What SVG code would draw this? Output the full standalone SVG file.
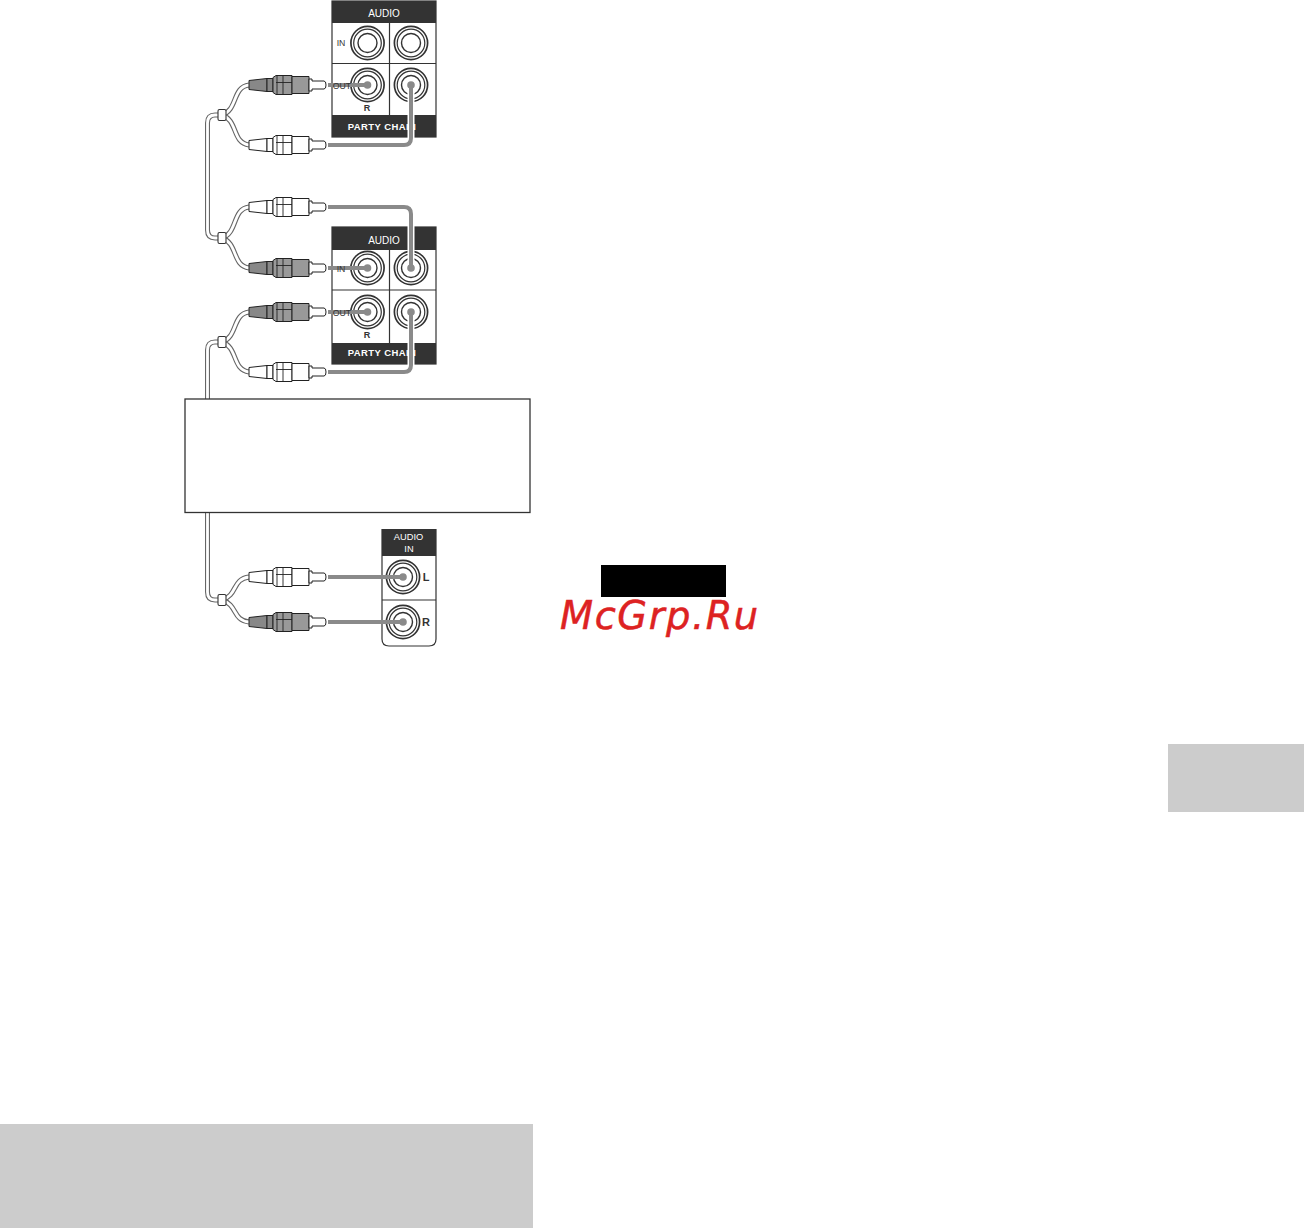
<svg xmlns="http://www.w3.org/2000/svg" xmlns:xlink="http://www.w3.org/1999/xlink" width="1304" height="1228" viewBox="0 0 1304 1228">
<style>
text{font-family:"Liberation Sans",Arial,sans-serif}
.hd{fill:#fff;font-size:10px;text-anchor:middle}
.hs{fill:#fff;font-size:9.300px;text-anchor:middle}
.hf{fill:#fff;font-size:9.500px;font-weight:bold;text-anchor:middle;letter-spacing:.4px}
.lb{fill:#333;font-size:8.700px;text-anchor:middle}
.lbb{fill:#333;font-size:9px;font-weight:bold;text-anchor:middle}
.pan{fill:#fff;stroke:#333;stroke-width:1.200}
.dark{fill:#333}
.div{stroke:#333;stroke-width:1.200;fill:none}
.halo{fill:none;stroke:#fff;stroke-width:7}
.wire{fill:none;stroke:#8a8a8a;stroke-width:4}
.co{fill:none;stroke:#666;stroke-width:5}
.ci{fill:none;stroke:#fff;stroke-width:2.800}
.pl{stroke:#222;stroke-width:1;stroke-linejoin:round}
.ln{stroke:#222;stroke-width:.900;fill:none}
</style>
<defs>
<g id="jack">
<circle r="16.600" fill="#fff" stroke="#333" stroke-width="1.700"/>
<circle r="13.800" fill="none" stroke="#333" stroke-width="1.200"/>
<circle r="9.500" fill="none" stroke="#333" stroke-width="1.400"/>
</g>
<g id="plugW">
<path class="pl" fill="#fff" d="M0-4.500L18-6.500V6.500L0 4.500Z"/>
<path class="pl" fill="#fff" d="M18-6.500H24V6.500H18Z"/>
<path class="pl" fill="#fff" d="M24-7.500L27-9.500H43V9.500H27L24 7.500Z"/>
<path class="pl" fill="#fff" d="M43-8.500H60V8.500H43Z"/>
<path class="pl" fill="#fff" d="M60-6H63V-4H75Q77-4 77 0Q77 4 75 4H63V6H60Z"/>
<path class="ln" d="M28-9.500V9.500M34-9.500V9.500M27-2.500H43"/>
</g>
<g id="plugG">
<path class="pl" fill="#888" d="M0-4.500L18-6.500V6.500L0 4.500Z"/>
<path class="pl" fill="#888" d="M18-6.500H24V6.500H18Z"/>
<path class="pl" fill="#999" d="M24-7.500L27-9.500H43V9.500H27L24 7.500Z"/>
<path class="pl" fill="#999" d="M43-8.500H60V8.500H43Z"/>
<path class="pl" fill="#fff" d="M60-6H63V-4H75Q77-4 77 0Q77 4 75 4H63V6H60Z"/>
<path class="ln" d="M28-9.500V9.500M34-9.500V9.500M27-2.500H43"/>
</g>
<rect id="clip" x="-4" y="-5.500" width="8" height="11" rx="1.500" fill="#fff" stroke="#333" stroke-width="1.100"/>
</defs>

<rect id="side-tab" x="1168" y="744" width="136" height="68" fill="#ccc"/>
<rect id="note-band" x="0" y="1124" width="533" height="104" fill="#ccc"/>

<g id="panel-top">
<rect class="pan" x="332" y="1" width="104" height="136"/>
<rect class="dark" x="332" y="1" width="104" height="22"/>
<rect class="dark" x="332" y="115" width="104" height="22"/>
<path class="div" d="M332 63.500H436M389.500 23V115"/>
<text class="hd" x="384" y="16.500">AUDIO</text>
<text class="lb" x="341" y="46">IN</text>
<use href="#jack" x="367.500" y="43"/><use href="#jack" x="411" y="43"/>
<use href="#jack" x="367.500" y="85"/><use href="#jack" x="411" y="85"/>
<text class="lbb" x="367" y="111">R</text>
<text class="lb" x="411" y="111">L</text>
<text class="hf" x="382" y="129.500">PARTY CHAIN</text>
</g>

<g id="panel-middle">
<rect class="pan" x="332" y="227" width="104" height="137"/>
<rect class="dark" x="332" y="227" width="104" height="23"/>
<rect class="dark" x="332" y="343" width="104" height="21"/>
<path class="div" d="M332 290H436M389.500 250V343"/>
<text class="hd" x="384" y="243.500">AUDIO</text>
<use href="#jack" x="367.500" y="268"/><use href="#jack" x="411" y="268"/>
<use href="#jack" x="367.500" y="312"/><use href="#jack" x="411" y="312"/>
<text class="lbb" x="367" y="338">R</text>
<text class="lb" x="411" y="338">L</text>
<text class="hf" x="382" y="356">PARTY CHAIN</text>
</g>

<g id="panel-bottom">
<path class="pan" d="M382 529.500H436V639Q436 646 429 646H389Q382 646 382 639Z"/>
<rect class="dark" x="382" y="529" width="54" height="27"/>
<path class="div" d="M382 600H436"/>
<text class="hs" x="408.500" y="540">AUDIO</text>
<text class="hs" x="409" y="552">IN</text>
<use href="#jack" x="403" y="577"/><use href="#jack" x="403" y="622"/>
<text x="426" y="581" font-size="11" font-weight="bold" fill="#333" text-anchor="middle">L</text>
<text x="426" y="626" font-size="11" font-weight="bold" fill="#333" text-anchor="middle">R</text>
</g>

<g id="connectors">
<path class="co" d="M222 115H215Q207.500 115 207.500 123V230Q207.500 238 215 238H222"/>
<path class="co" d="M222 115C238 110 232 87 249 85M222 115C238 120 232 143 249 145M222 238C238 233 232 209 249 207M222 238C238 243 232 266 249 268"/>
<path class="co" d="M222 342H215Q207.500 342 207.500 350V592Q207.500 600 215 600H222"/>
<path class="co" d="M222 342C238 337 232 314 249 312M222 342C238 347 232 370 249 372M222 600C238 595 232 579 249 577M222 600C238 605 232 620 249 622"/>
<path class="ci" d="M222 115H215Q207.500 115 207.500 123V230Q207.500 238 215 238H222"/>
<path class="ci" d="M222 115C238 110 232 87 249 85M222 115C238 120 232 143 249 145M222 238C238 233 232 209 249 207M222 238C238 243 232 266 249 268"/>
<path class="ci" d="M222 342H215Q207.500 342 207.500 350V592Q207.500 600 215 600H222"/>
<path class="ci" d="M222 342C238 337 232 314 249 312M222 342C238 347 232 370 249 372M222 600C238 595 232 579 249 577M222 600C238 605 232 620 249 622"/>
<use href="#clip" x="222" y="115"/><use href="#clip" x="222" y="238"/>
<use href="#clip" x="222" y="342"/><use href="#clip" x="222" y="600"/>

<path class="halo" d="M329 145H404Q411 145 411 138V85"/>
<path class="halo" d="M329 207H404Q411 207 411 214V268"/>
<path class="halo" d="M329 372H404Q411 372 411 365V312"/>
<path class="wire" d="M328 85H367.500"/>
<path class="wire" d="M328 145H404Q411 145 411 138V85"/>
<path class="wire" d="M328 207H404Q411 207 411 214V268"/>
<path class="wire" d="M328 268H367.500"/>
<path class="wire" d="M328 312H367.500"/>
<path class="wire" d="M328 372H404Q411 372 411 365V312"/>
<path class="wire" d="M328 577H403"/>
<path class="wire" d="M328 622H403"/>
<circle cx="367.500" cy="85" r="3.800" fill="#8a8a8a"/><circle cx="411" cy="85" r="3.800" fill="#8a8a8a"/>
<circle cx="411" cy="268" r="3.800" fill="#8a8a8a"/><circle cx="367.500" cy="268" r="3.800" fill="#8a8a8a"/>
<circle cx="367.500" cy="312" r="3.800" fill="#8a8a8a"/><circle cx="411" cy="312" r="3.800" fill="#8a8a8a"/>
<circle cx="403" cy="577" r="3.800" fill="#8a8a8a"/><circle cx="403" cy="622" r="3.800" fill="#8a8a8a"/>
<use href="#plugG" x="249" y="85"/><use href="#plugW" x="249" y="145"/>
<use href="#plugW" x="249" y="207"/><use href="#plugG" x="249" y="268"/>
<use href="#plugG" x="249" y="312"/><use href="#plugW" x="249" y="372"/>
<use href="#plugW" x="249" y="577"/><use href="#plugG" x="249" y="622"/>
</g>

<g id="port-labels">
<text class="lb" x="342" y="89">OUT</text>
<text class="lb" x="341" y="272">IN</text>
<text class="lb" x="342" y="316">OUT</text>
</g>

<g id="note-box"><rect x="185" y="399" width="345" height="113.500" fill="#fff" stroke="#333" stroke-width="1.300"/></g>
<g id="black-label"><rect x="601" y="565" width="125" height="32" fill="#000"/></g>
<text id="watermark" x="560" y="629" font-size="38.400" font-style="italic" letter-spacing="1.550" fill="#dd2222" stroke="#dd2222" stroke-width=".5" style="font-family:'DejaVu Sans',sans-serif">McGrp.Ru</text>
</svg>
